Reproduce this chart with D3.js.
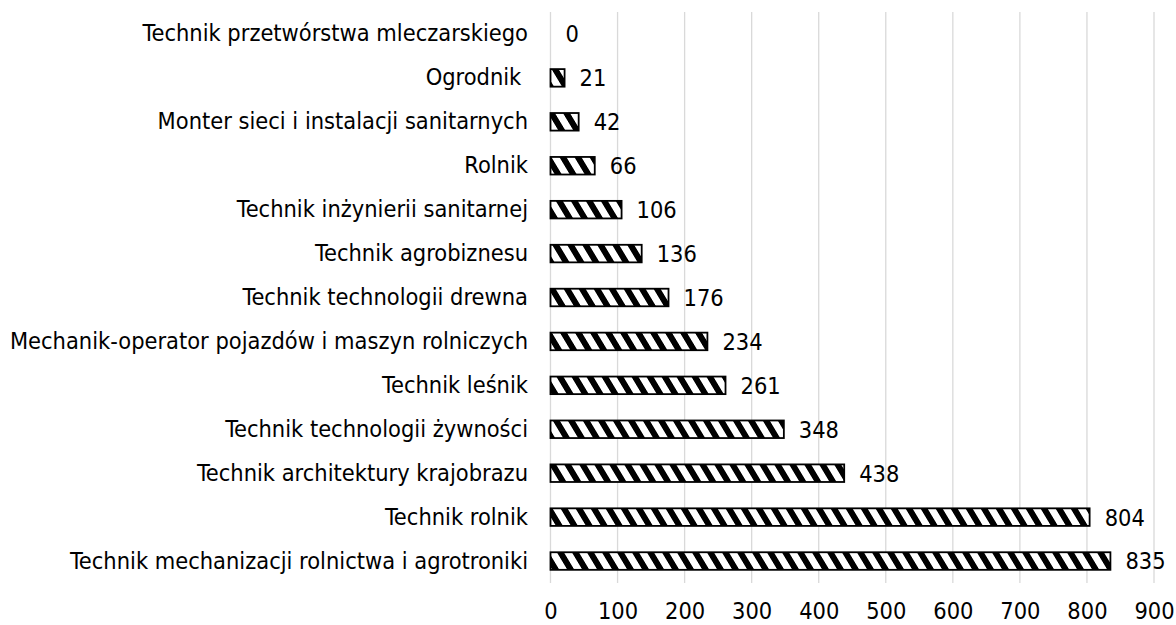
<!DOCTYPE html>
<html>
<head>
<meta charset="utf-8">
<script src="https://cdn.jsdelivr.net/npm/d3@7"></script>
<style>
  html, body { margin: 0; padding: 0; background: #fff; }
  svg text { font-family: "DejaVu Sans Condensed", "DejaVu Sans", sans-serif; fill: #000; }
</style>
</head>
<body>
<svg id="chart" width="1176" height="625"></svg>
<script>
// Occupations, listed top to bottom
const categories = [
  "Technik przetwórstwa mleczarskiego",
  "Ogrodnik ",
  "Monter sieci i instalacji sanitarnych",
  "Rolnik",
  "Technik inżynierii sanitarnej",
  "Technik agrobiznesu",
  "Technik technologii drewna",
  "Mechanik-operator pojazdów i maszyn rolniczych",
  "Technik leśnik",
  "Technik technologii żywności",
  "Technik architektury krajobrazu",
  "Technik rolnik",
  "Technik mechanizacji rolnictwa i agrotroniki"
];
const values = [0, 21, 42, 66, 106, 136, 176, 234, 261, 348, 438, 804, 835];
const xTicks = [0, 100, 200, 300, 400, 500, 600, 700, 800, 900];

const svg = d3.select("#chart");
const fontSize = 23.4;
const fontFamily = "'DejaVu Sans Condensed', 'DejaVu Sans', sans-serif";

const x = d3.scaleLinear().domain([0, 900]).range([550.5, 1154]);
const y = d3.scaleBand().domain(categories).range([12, 583])
  .paddingInner(0.6).paddingOuter(0.3);

// Diagonal hatch fill
const defs = svg.append("defs");
const pat = defs.append("pattern")
  .attr("id", "hatch")
  .attr("patternUnits", "userSpaceOnUse")
  .attr("width", 15).attr("height", 40)
  .attr("patternTransform", "skewX(31)");
pat.append("rect").attr("width", 15).attr("height", 40).attr("fill", "#fff");
pat.append("rect").attr("x", 0).attr("width", 7).attr("height", 40).attr("fill", "#000");

// Vertical gridlines
svg.append("g")
  .selectAll("line")
  .data(xTicks)
  .join("line")
  .attr("x1", d => x(d)).attr("x2", d => x(d))
  .attr("y1", 12).attr("y2", 583)
  .attr("stroke", "#d9d9d9")
  .attr("stroke-width", 1.3);

// Bottom axis labels (no line, no ticks)
const xAxis = d3.axisBottom(x).tickValues(xTicks).tickSize(0).tickPadding(0);
const gx = svg.append("g").attr("transform", "translate(0,619)").call(xAxis);
gx.select(".domain").remove();
gx.selectAll("text")
  .attr("font-size", fontSize)
  .attr("dy", "0")
  .style("font-family", fontFamily);

// Category labels (no line, no ticks)
const yAxis = d3.axisLeft(y).tickSize(0).tickPadding(0);
const gy = svg.append("g").attr("transform", "translate(528,0)").call(yAxis);
gy.select(".domain").remove();
gy.selectAll("text")
  .attr("font-size", fontSize)
  .style("font-family", fontFamily)
  .attr("xml:space", "preserve");

// Bars
const rows = categories.map((c, i) => ({ c, v: values[i] }));
svg.append("g")
  .selectAll("rect")
  .data(rows.filter(d => d.v > 0))
  .join("rect")
  .attr("x", x(0))
  .attr("y", d => y(d.c))
  .attr("width", d => x(d.v) - x(0))
  .attr("height", y.bandwidth())
  .attr("fill", "url(#hatch)")
  .attr("stroke", "#000")
  .attr("stroke-width", 1.8);

// Value labels
svg.append("g")
  .selectAll("text")
  .data(rows)
  .join("text")
  .attr("x", d => x(d.v) + 15)
  .attr("y", d => y(d.c) + y.bandwidth() / 2)
  .attr("dy", "0.36em")
  .attr("font-size", fontSize)
  .text(d => d.v);
</script>
</body>
</html>
